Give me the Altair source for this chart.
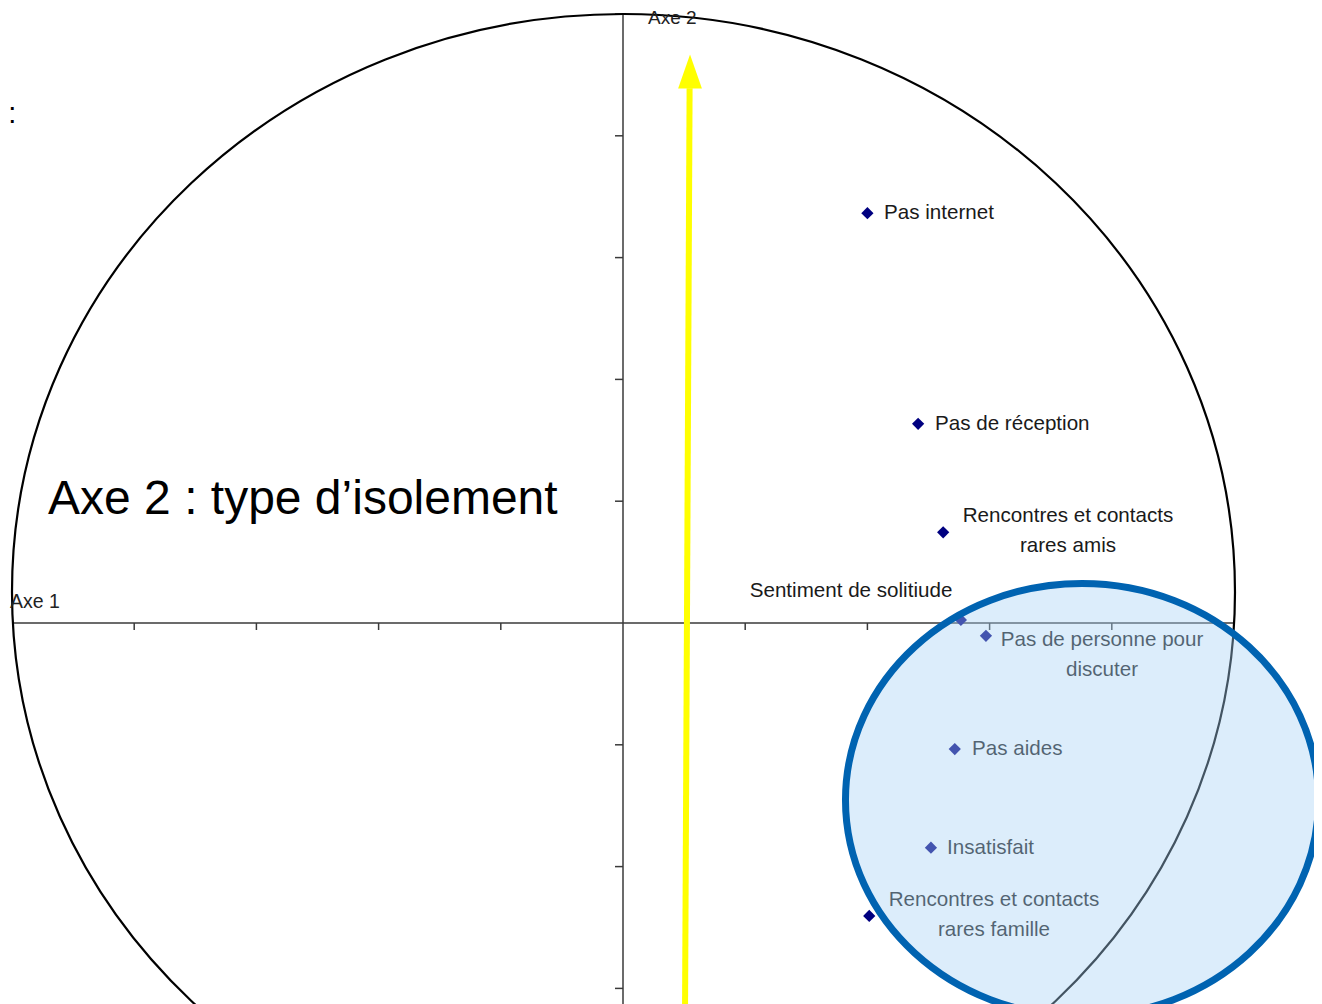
import altair as alt
import pandas as pd

# --- data (correlation circle coordinates) ---
labels = ["Pas internet", "Pas de réception", "Rencontres et contacts\nrares amis",
          "Sentiment de solitiude", "Pas de personne pour\ndiscuter", "Pas aides",
          "Insatisfait", "Rencontres et contacts\nrares famille"]
px = [0.400, 0.483, 0.524, 0.553, 0.594, 0.543, 0.504, 0.403]
py = [0.673, 0.327, 0.149, 0.005, -0.021, -0.207, -0.369, -0.481]

# label anchor positions (data units; first line for two-line labels)
lab_x = [0.4272, 0.5106, 0.7283, 0.3732, 0.7840, 0.5712, 0.5303, 0.6072]
lab_y = [0.6732, 0.3268, 0.1757, 0.0525, -0.0279, -0.2069, -0.3695, -0.4548]
lab_align = ["left", "left", "center", "center", "center", "left", "left", "center"]

x_ticks = [-0.8, -0.6, -0.4, -0.2, 0.2, 0.4, 0.6, 0.8]
y_ticks = [1.0, 0.8, 0.6, 0.4, 0.2, -0.2, -0.4, -0.6]

arrow_x = [0.1015, 0.1090]
arrow_y = [-0.64, 0.878]
arrow_head = (0.1097, 0.9056)

ring_center = (0.0008, 0.0509)
zone_center = (0.7512, -0.2906)

XD = [-1.00655, 1.13093]
YD = [-0.62562, 1.00985]

W, H = 1306, 996
FONT = "Liberation Sans"

xs = alt.Scale(domain=XD, nice=False, zero=False)
ys = alt.Scale(domain=YD, nice=False, zero=False)
X = lambda f: alt.X(f, type="quantitative", scale=xs, axis=None)
Y = lambda f: alt.Y(f, type="quantitative", scale=ys, axis=None)


def ellipse_path(ry):
    k = 0.5523
    return (f"M1,0 C1,{k*ry:.4f} {k},{ry:.4f} 0,{ry:.4f} "
            f"C{-k},{ry:.4f} -1,{k*ry:.4f} -1,0 "
            f"C-1,{-k*ry:.4f} {-k},{-ry:.4f} 0,{-ry:.4f} "
            f"C{k},{-ry:.4f} 1,{-k*ry:.4f} 1,0 Z")


pts = pd.DataFrame({"label": labels, "x": px, "y": py})
labs = pd.DataFrame({"label": labels, "x": lab_x, "y": lab_y, "align": lab_align})

AX = "#3a3a3a"
# axes lines
h_axis = alt.Chart(pd.DataFrame({"x": [-1.0], "x2": [1.0], "y": [0.0]})).mark_rule(
    color=AX, strokeWidth=1.5).encode(x=X("x"), x2="x2", y=Y("y"))
v_axis = alt.Chart(pd.DataFrame({"x": [0.0], "y": [YD[0]], "y2": [1.0]})).mark_rule(
    color=AX, strokeWidth=1.5).encode(x=X("x"), y=Y("y"), y2="y2")

xt = alt.Chart(pd.DataFrame({"x": x_ticks, "y": [0.0] * len(x_ticks)})).mark_rule(
    color=AX, strokeWidth=1.5, y2Offset=7).encode(x=X("x"), y=Y("y"), y2="y")
yt = alt.Chart(pd.DataFrame({"x": [0.0] * len(y_ticks), "y": y_ticks})).mark_rule(
    color=AX, strokeWidth=1.5, xOffset=-8).encode(x=X("x"), x2="x", y=Y("y"))

circle = alt.Chart(pd.DataFrame({"x": [ring_center[0]], "y": [ring_center[1]]})).mark_point(
    shape=ellipse_path(578 / 611.5), size=1223 ** 2, filled=False,
    stroke="black", strokeWidth=2.2, opacity=1).encode(x=X("x"), y=Y("y"))

arrow_line = alt.Chart(pd.DataFrame({"x": [arrow_x[0]], "x2": [arrow_x[1]],
                                     "y": [arrow_y[0]], "y2": [arrow_y[1]]})).mark_rule(
    color="#FFFF00", strokeWidth=6).encode(x=X("x"), x2="x2", y=Y("y"), y2="y2")
arrow_tip = alt.Chart(pd.DataFrame({"x": [arrow_head[0]], "y": [arrow_head[1]]})).mark_point(
    shape="M0,-1 L-0.7,1 L0.7,1 Z", size=34 ** 2, filled=True, fill="#FFFF00",
    strokeWidth=0, opacity=1).encode(x=X("x"), y=Y("y"))

points = alt.Chart(pts).mark_point(
    shape="diamond", size=150, filled=True, color="#000080", opacity=1).encode(
    x=X("x"), y=Y("y"))

text_left = alt.Chart(labs).transform_filter(alt.datum.align == "left").mark_text(
    align="left", baseline="middle", font=FONT, fontSize=20.6, color="#1a1a1a",
    lineBreak="\n", lineHeight=30).encode(x=X("x"), y=Y("y"), text="label")
text_center = alt.Chart(labs).transform_filter(alt.datum.align == "center").mark_text(
    align="center", baseline="middle", font=FONT, fontSize=20.6, color="#1a1a1a",
    lineBreak="\n", lineHeight=30).encode(x=X("x"), y=Y("y"), text="label")

annot = pd.DataFrame({
    "t": ["Axe 1", "Axe 2", "Axe 2 : type d\u2019isolement", ":"],
    "x": [-1.0033, 0.0409, -0.941, -1.0060],
    "y": [0.0345, 0.9930, 0.202, 0.836],
    "s": [19.5, 19, 48, 29],
})
annot_layers = []
for i in range(len(annot)):
    row = annot.iloc[[i]]
    annot_layers.append(alt.Chart(row).mark_text(
        align="left", baseline="middle", font=FONT, fontSize=float(row["s"].iloc[0]),
        color="#222" if i < 2 else "black").encode(x=X("x"), y=Y("y"), text="t"))

zone = alt.Chart(pd.DataFrame({"x": [zone_center[0]], "y": [zone_center[1]]})).mark_point(
    shape=ellipse_path(216.5 / 236.5), size=473 ** 2, filled=True,
    fill="#a8d2f5", fillOpacity=0.4, stroke="#0063B1", strokeOpacity=1,
    strokeWidth=7).encode(x=X("x"), y=Y("y"))

chart = alt.layer(
    h_axis, v_axis, xt, yt, circle, arrow_line, arrow_tip, points,
    text_left, text_center, *annot_layers, zone
).properties(
    width=W, height=H, autosize=alt.AutoSizeParams(type="none"), padding=0,
    background="white"
).configure_view(stroke=None)

chart.save("out.html", embed_options={"renderer": "svg", "actions": False})
